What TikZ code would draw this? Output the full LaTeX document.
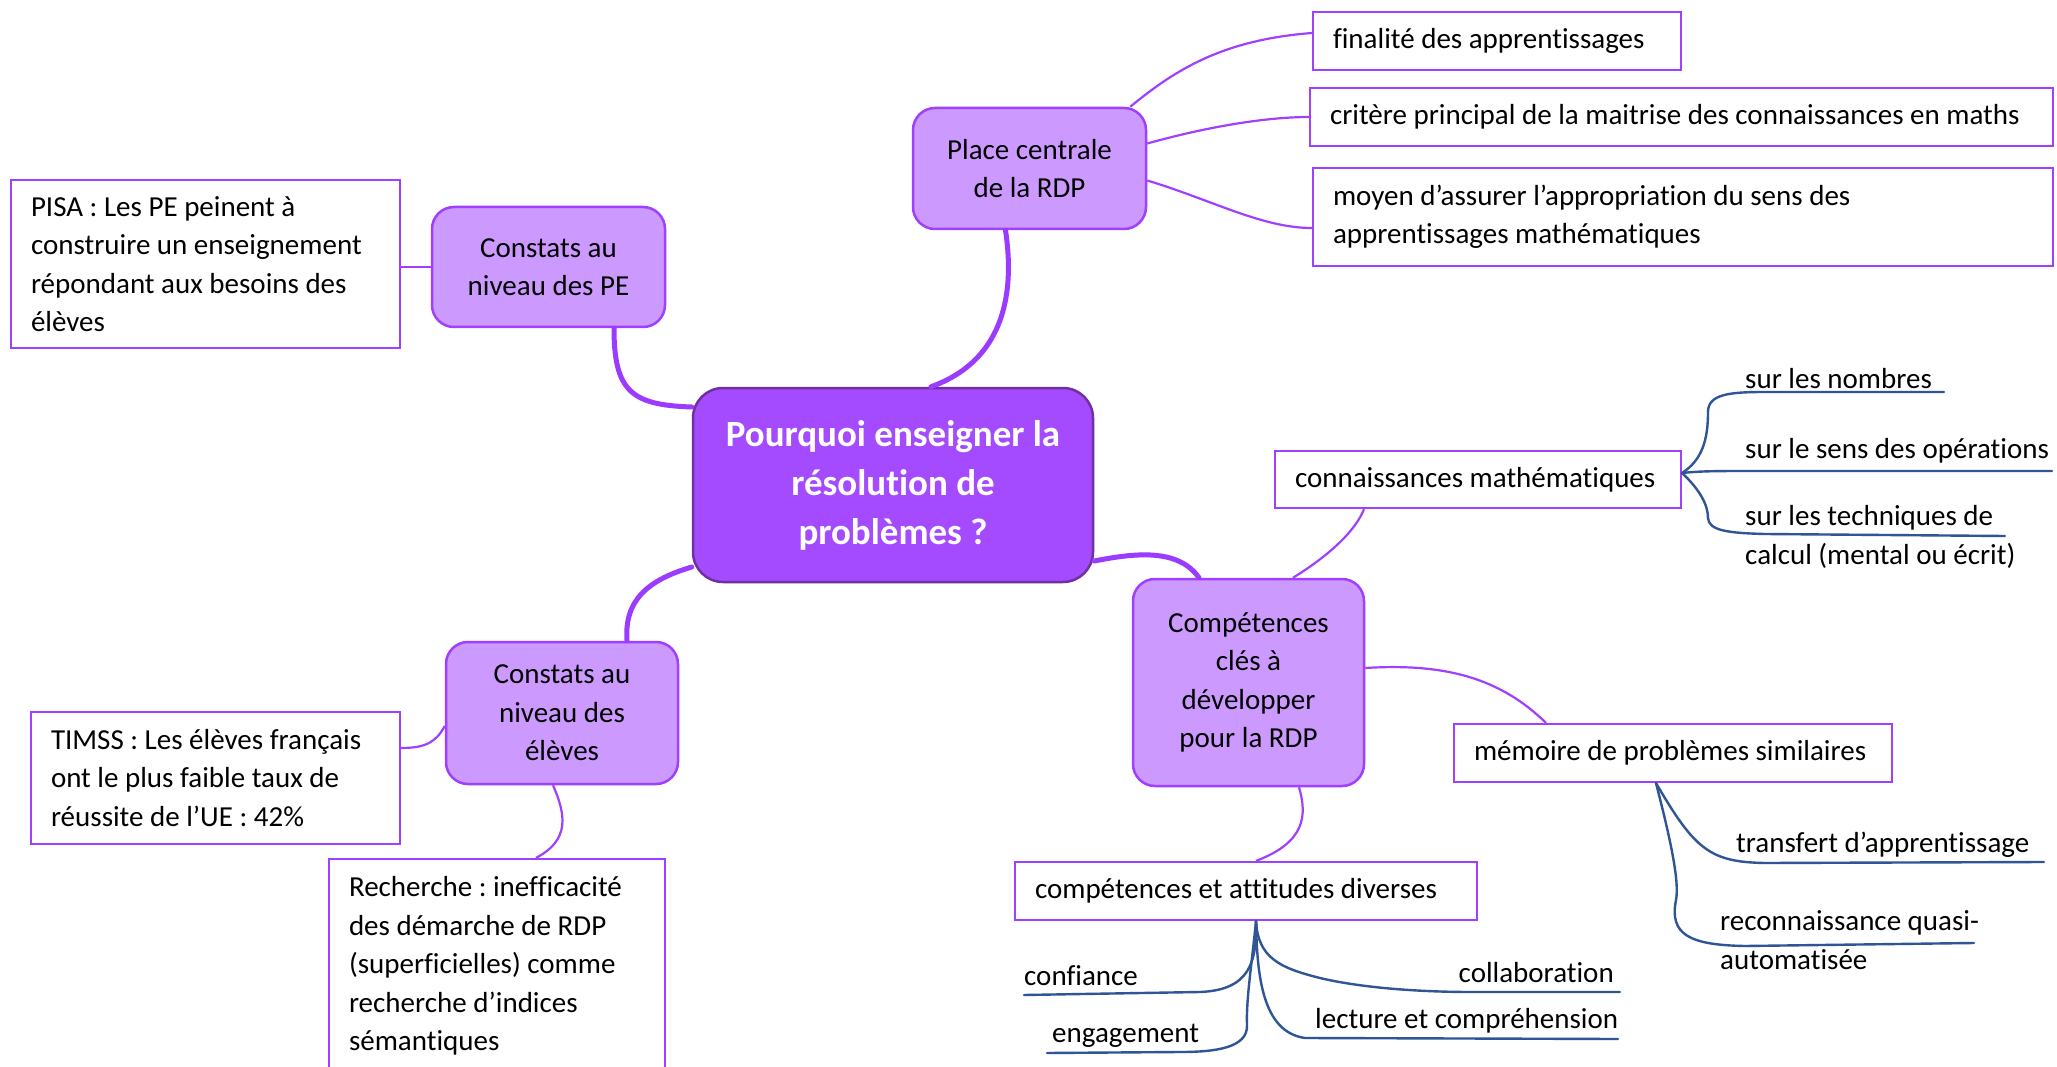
\documentclass[tikz,border=0pt]{standalone}
\usepackage{fontspec}
\setmainfont{Carlito}[Ligatures={NoCommon}]
\frenchspacing
\definecolor{rootfill}{HTML}{A44BFF}
\definecolor{rootline}{HTML}{7030A0}
\definecolor{topicfill}{HTML}{CC99FF}
\definecolor{violet}{HTML}{A040FF}
\definecolor{branch}{HTML}{9B3BFF}
\definecolor{navy}{HTML}{2F5597}
\newcommand{\bodyfont}{\fontsize{29}{38.5}\selectfont}
\begin{document}
\begin{tikzpicture}[x=1pt,y=-1pt,
  root/.style={draw=rootline, line width=2.5pt, fill=rootfill, rounded corners=30pt,
    text=white, font=\fontsize{37}{49}\selectfont\bfseries, align=center, inner sep=0pt},
  topic/.style={draw=violet, line width=2.5pt, fill=topicfill, rounded corners=22pt,
    font=\bodyfont, align=center, inner sep=0pt},
  leafbox/.style={draw=violet, line width=2.2pt, fill=white, font=\bodyfont,
    align=flush left, inner xsep=20pt, inner ysep=0pt},
  leaf/.style={font=\bodyfont, align=left, inner sep=0pt},
  thick link/.style={draw=branch, line width=5pt, line cap=round},
  thin link/.style={draw=violet, line width=2.2pt},
  sub link/.style={draw=navy, line width=2.4pt, line cap=round},
]
\useasboundingbox (0,0) rectangle (2057,1067);
\clip (0,0) rectangle (2057,1067);
\fill[white] (0,0) rectangle (2057,1067);

% ---------- main topics ----------
\node[root, minimum width=400pt, minimum height=194pt] (root) at (893,485)
  {Pourquoi enseigner la\\résolution de\\problèmes ?};
\node[topic, minimum width=233pt, minimum height=121pt] (pc) at (1029.5,168.5)
  {Place centrale\\de la RDP};
\node[topic, minimum width=233pt, minimum height=120pt] (pe) at (548.5,267)
  {Constats au\\niveau des PE};
\node[topic, minimum width=232pt, minimum height=142pt] (el) at (562,713)
  {Constats au\\niveau des\\élèves};
\node[topic, minimum width=231pt, minimum height=207pt] (comp) at (1248.5,682.5)
  {Compétences\\clés à\\développer\\pour la RDP};

\draw[thick link] ([xshift=38pt]root.north) .. controls (1000,362) and (1016,300) .. ([xshift=-24pt]pc.south);
\draw[thick link] ([yshift=78pt]root.west) .. controls (632,405) and (614,392) .. ([xshift=65.5pt]pe.south);
\draw[thick link] ([yshift=-82pt]root.west) .. controls (648,580) and (624,600) .. ([xshift=65pt]el.north);
\draw[thick link] ([yshift=-76pt]root.east) .. controls (1135,553) and (1178,548) .. ([xshift=-49.5pt]comp.north);

% ---------- boxed leaves ----------
\node[leafbox, minimum width=368pt, minimum height=58pt, text width=328pt] (fin) at (1497,41)
  {finalité des apprentissages};
\node[leafbox, minimum width=743pt, minimum height=58pt, text width=703pt] (crit) at (1681.5,117)
  {critère principal de la maitrise des connaissances en maths};
\node[leafbox, minimum width=740pt, minimum height=98pt, text width=700pt] (moy) at (1683,217)
  {moyen d’assurer l’appropriation du sens des\\apprentissages mathématiques};
\node[leafbox, minimum width=389pt, minimum height=168pt, text width=349pt] (pisa) at (205.5,264)
  {PISA : Les PE peinent à\\construire un enseignement\\répondant aux besoins des\\élèves};
\node[leafbox, minimum width=369pt, minimum height=132pt, text width=329pt] (timss) at (215.5,778)
  {TIMSS : Les élèves français\\ont le plus faible taux de\\réussite de l’UE : 42\%};
\node[leafbox, minimum width=336pt, minimum height=214pt, text width=296pt] (rech) at (497,966)
  {Recherche : inefficacité\\des démarche de RDP\\(superficielles) comme\\recherche d’indices\\sémantiques};
\node[leafbox, minimum width=406pt, minimum height=57pt, text width=366pt] (cm) at (1478,479.5)
  {connaissances mathématiques};
\node[leafbox, minimum width=438pt, minimum height=58pt, text width=398pt] (mem) at (1673,753)
  {mémoire de problèmes similaires};
\node[leafbox, minimum width=462pt, minimum height=58pt, text width=422pt] (att) at (1246,891)
  {compétences et attitudes diverses};

% thin links from topics to boxed leaves
\draw[thin link] ([xshift=-17pt]pc.north east) .. controls (1175,70) and (1222,40) .. ([yshift=8pt]fin.west);
\draw[thin link] ([yshift=25pt]pc.east) .. controls (1210,126) and (1268,117) .. (crit.west);
\draw[thin link] ([yshift=-12pt]pc.east) .. controls (1212,200) and (1262,228) .. ([yshift=-11pt]moy.west);
\draw[thin link] (pe.west) -- (pe.west -| pisa.east);
\draw[thin link] ([yshift=-13pt]el.west) .. controls (436,742) and (426,748) .. ([yshift=30pt]timss.east);
\draw[thin link] ([xshift=-9pt]el.south) .. controls (566,815) and (570,840) .. ([xshift=39pt]rech.north);
\draw[thin link] ([xshift=44.5pt]comp.north) .. controls (1330,555) and (1356,530) .. ([xshift=-114pt]cm.south);
\draw[thin link] ([yshift=14.5pt]comp.east) .. controls (1445,663) and (1500,678) .. ([xshift=-127pt]mem.north);
\draw[thin link] ([xshift=50.5pt]comp.south) .. controls (1307,815) and (1306,842) .. ([xshift=10pt]att.north);

% ---------- underlined leaves ----------
\coordinate (cmf) at ([yshift=6.5pt]cm.east);
\node[leaf, anchor=west] (nb) at (1745,379) {sur les nombres};
\node[leaf, anchor=west] (op) at (1745,451) {sur le sens des opérations};
\node[leaf, anchor=west] (tc) at (1745,537) {sur les techniques de\\calcul (mental ou écrit)};
\draw[sub link] (cmf) .. controls (1702,460) and (1708,440) .. (1708,412)
  .. controls (1708,394) and (1730,392) .. (1765,392) -- (1944,392);
\draw[sub link] (cmf) .. controls (1700,471) and (1720,471) .. (1750,471) -- (2052,471);
\draw[sub link] (cmf) .. controls (1700,490) and (1708,505) .. (1708,518)
  .. controls (1709,530) and (1725,533) .. (1765,534) -- (2005,536);

\coordinate (memf) at ([xshift=-17pt]mem.south);
\node[leaf, anchor=west] (tr) at (1736,845) {transfert d’apprentissage};
\node[leaf, anchor=west] (rq) at (1720,940) {reconnaissance quasi-\\automatisée};
\draw[sub link] (memf) .. controls (1695,850) and (1710,862) .. (1765,863) -- (2044,862);
\draw[sub link] (memf) .. controls (1668,830) and (1680,880) .. (1676,900)
  .. controls (1669,935) and (1690,945) .. (1745,946) -- (1974,943);

\coordinate (attf) at ([xshift=10pt]att.south);
\node[leaf, anchor=west] (cf) at (1024,976) {confiance};
\node[leaf, anchor=west] (eg) at (1052,1036) {engagement};
\node[leaf, anchor=east] (co) at (1614,973) {collaboration};
\node[leaf, anchor=west] (lc) at (1315,1021) {lecture et compréhension};
\draw[sub link] (attf) .. controls (1257,962) and (1250,990) .. (1200,992) -- (1024,995);
\draw[sub link] (attf) .. controls (1252,962) and (1246,1000) .. (1247,1025)
  .. controls (1248,1048) and (1215,1052) .. (1180,1052) -- (1047,1053);
\draw[sub link] (attf) .. controls (1258,958) and (1280,968) .. (1320,978)
  .. controls (1362,988) and (1420,992) .. (1472,992) -- (1620,992);
\draw[sub link] (attf) .. controls (1257,975) and (1262,1032) .. (1305,1038) -- (1618,1039);
\end{tikzpicture}
\end{document}
